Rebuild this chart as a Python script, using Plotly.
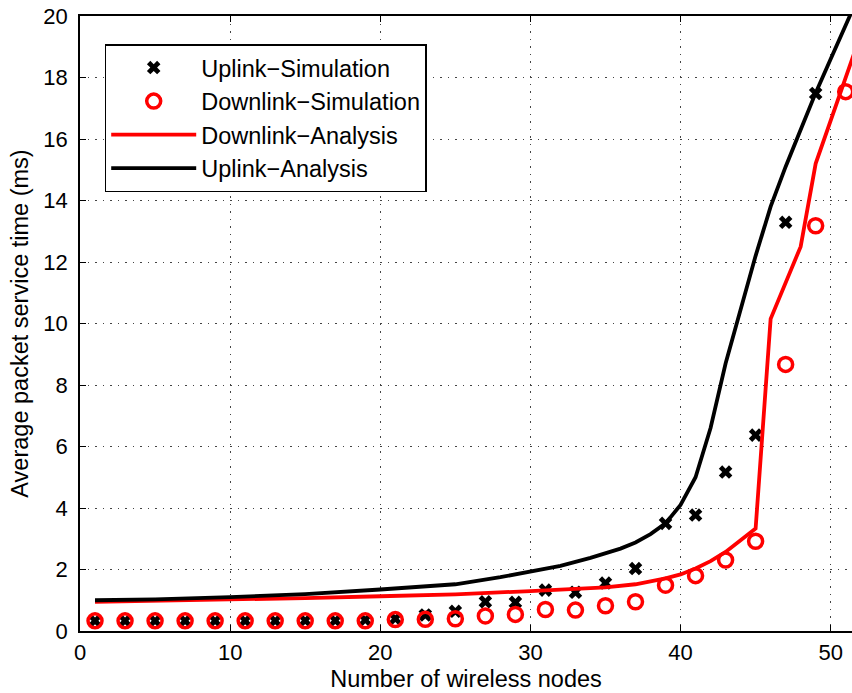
import plotly.graph_objects as go

# Simulation points (odd node counts)
up_sim_x = [1, 3, 5, 7, 9, 11, 13, 15, 17, 19, 21, 23, 25, 27, 29, 31, 33, 35, 37, 39, 41, 43, 45, 47, 49]
up_sim_y = [0.33, 0.33, 0.33, 0.33, 0.33, 0.33, 0.33, 0.34, 0.34, 0.36, 0.40, 0.52, 0.64, 0.95, 0.93,
            1.33, 1.26, 1.56, 2.03, 3.50, 3.77, 5.17, 6.37, 13.29, 17.48]

dn_sim_x = [1, 3, 5, 7, 9, 11, 13, 15, 17, 19, 21, 23, 25, 27, 29, 31, 33, 35, 37, 39, 41, 43, 45, 47, 49, 51]
dn_sim_y = [0.33, 0.33, 0.33, 0.33, 0.33, 0.33, 0.33, 0.33, 0.33, 0.33, 0.37, 0.38, 0.40, 0.49, 0.54,
            0.70, 0.68, 0.82, 0.95, 1.49, 1.80, 2.31, 2.92, 8.67, 13.18, 17.54]

# Analysis curves
up_ana_x = [1, 5, 10, 15, 20, 25, 28, 30, 32, 34, 35, 36, 37, 38, 39, 40, 41, 42, 43, 44, 45, 46, 47, 48, 49, 50, 51, 52]
up_ana_y = [1.00, 1.03, 1.10, 1.20, 1.35, 1.52, 1.75, 1.93, 2.12, 2.38, 2.52, 2.68, 2.88, 3.15, 3.50, 4.10,
            5.00, 6.60, 8.70, 10.50, 12.20, 13.80, 15.10, 16.30, 17.50, 18.60, 19.70, 20.80]

dn_ana_x = [1, 5, 10, 15, 20, 25, 30, 33, 35, 37, 38, 39, 40, 41, 42, 43, 44, 45, 46, 47, 48, 49, 50, 51, 52]
dn_ana_y = [0.95, 0.98, 1.02, 1.07, 1.13, 1.19, 1.30, 1.37, 1.42, 1.52, 1.60, 1.71, 1.84, 2.03, 2.27, 2.57,
            2.95, 3.33, 10.15, 11.30, 12.50, 15.20, 16.60, 18.00, 19.40]

x_ticks = [0, 10, 20, 30, 40, 50]
y_ticks = [0, 2, 4, 6, 8, 10, 12, 14, 16, 18, 20]

FONT = "Liberation Sans, Arial, Helvetica, sans-serif"

fig = go.Figure()
fig.add_trace(go.Scatter(
    x=up_sim_x, y=up_sim_y, mode="markers", name="Uplink\u2212Simulation",
    marker=dict(symbol="x", size=12, color="black", line=dict(width=0)),
))
fig.add_trace(go.Scatter(
    x=dn_sim_x, y=dn_sim_y, mode="markers", name="Downlink\u2212Simulation",
    marker=dict(symbol="circle-open", size=14, color="#ff0000", line=dict(width=3.5, color="#ff0000")),
))
fig.add_trace(go.Scatter(
    x=dn_ana_x, y=dn_ana_y, mode="lines", name="Downlink\u2212Analysis",
    line=dict(color="#ff0000", width=3.8),
))
fig.add_trace(go.Scatter(
    x=up_ana_x, y=up_ana_y, mode="lines", name="Uplink\u2212Analysis",
    line=dict(color="black", width=3.8),
))

axis_common = dict(
    showline=True, linecolor="black", linewidth=1.5,
    ticks="inside", ticklen=6, tickwidth=1, tickcolor="black",
    showgrid=True, gridcolor="#444444", gridwidth=1, griddash="1.5px,6px",
    zeroline=False,
    tickfont=dict(family=FONT, size=22, color="black"),
)

fig.update_xaxes(
    range=[0, 51.42], tickvals=x_ticks, ticktext=[str(v) for v in x_ticks],
    mirror="ticks",
    title=dict(text="Number of wireless nodes", font=dict(family=FONT, size=23.5, color="black"), standoff=6),
    ticklabelstandoff=1,
    **axis_common,
)
fig.update_yaxes(
    range=[0, 20], tickvals=y_ticks, ticktext=[str(v) for v in y_ticks],
    mirror=False,
    title=dict(text="Average packet service time (ms)", font=dict(family=FONT, size=23.5, color="black"), standoff=8),
    ticklabelstandoff=6,
    **axis_common,
)

fig.update_layout(
    width=852, height=693,
    margin=dict(l=80, r=0, t=16, b=62),
    paper_bgcolor="white", plot_bgcolor="white",
    font=dict(family=FONT, color="black"),
    showlegend=True,
    legend=dict(
        x=0.032, y=0.954, xanchor="left", yanchor="top",
        bgcolor="white", bordercolor="black", borderwidth=1.5,
        font=dict(family=FONT, size=23.5, color="black"),
        itemwidth=85, tracegroupgap=0,
    ),
)

fig.write_html("out.html")
